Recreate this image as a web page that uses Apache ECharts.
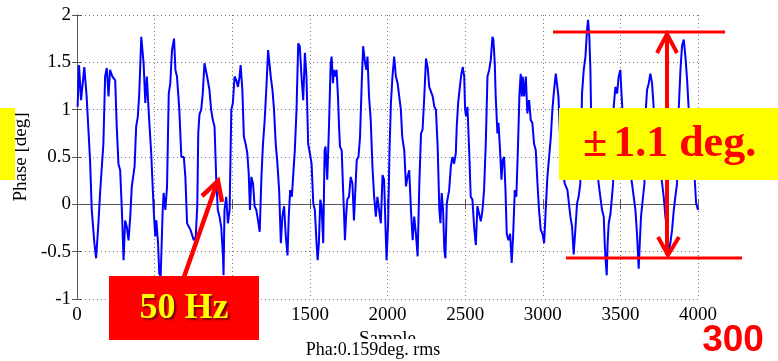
<!DOCTYPE html>
<html>
<head>
<meta charset="utf-8">
<script src="https://cdn.jsdelivr.net/npm/echarts@6/dist/echarts.min.js"></script>
<style>
html,body{margin:0;padding:0;background:#fff;}
#chart{width:778px;height:361px;}
</style>
</head>
<body>
<div id="chart"></div>
<script>
// ---- data ----
const xTicks = [0, 500, 1000, 1500, 2000, 2500, 3000, 3500, 4000];
const yTicks = [-1, -0.5, 0, 0.5, 1, 1.5, 2];
const sampleIdx = [
4,13,26,47,62,84,95,112,123,138,149,159,170,181,192,203,213,228,246,256,267,278,289,300,310,321,332,343,353,371,381,392,401,414,429,440,450,461,478,494,504,511,522,530,539,552,558,569,580,591,601,612,625,634,644,659,672,688,698,709,720,731,752,765,775,781,789,800,
810,821,828,838,853,864,875,886,897,907,918,929,940,944,950,961,972,983,994,1004,1015,1026,1037,1047,1054,1065,1075,1086,1097,1106,1114,1123,1134,1144,1155,1166,1177,1188,1198,1209,1220,1231,1237,1248,1259,1269,1280,1291,1302,1313,1323,1334,1345,1356,1364,1373,1384,1392,1403,1414,1425,1435,1446,1457,1468,1478,1489,1500,1511,1522,1532,1543,1550,1558,1567,1575,1586,
1595,1601,1612,1623,1634,1640,1649,1655,1666,1672,1681,1688,1694,1705,1711,1720,1726,1733,1741,1752,1763,1774,1784,1791,1802,1813,1823,1834,1843,1849,1856,1864,1871,1881,1892,1903,1914,1925,1935,1946,1957,1968,1978,1989,1994,2004,2013,2022,2032,2043,2054,2065,2075,2086,2095,2108,2119,2129,2140,2151,2162,2172,2183,2194,2205,2216,2226,2237,2248,2259,2269,2280,2291,2302,2312,2323,2334,2341,2349,2358,2366,2373,
2382,2397,2408,2418,2429,2440,2446,2455,2466,2476,2485,2494,2500,2506,2515,2526,2536,2547,2558,2569,2579,2590,2601,2612,2622,2633,2644,2655,2665,2676,2682,2691,2697,2708,2715,2725,2734,2742,2751,2760,2768,2779,2790,2800,2809,2820,2830,2841,2850,2858,2865,2871,2880,2891,2901,2912,2923,2933,2944,2955,2966,2976,2987,2998,3009,3019,3030,3041,3052,3062,3073,3084,3090,3101,3112,3127,3142,3159,
3178,3189,3199,3210,3221,3231,3242,3253,3264,3275,3285,3292,3300,3307,3311,3325,3342,3360,3371,3382,3393,3399,3405,3412,3418,3425,3436,3446,3453,3457,3468,3479,3489,3500,3506,3513,3532,3552,3575,3586,3597,3607,3618,3625,3633,3646,3655,3665,3672,3683,3693,3704,3715,3733,3751,3769,3779,3790,3801,3811,3822,3833,3844,3854,3865,3876,3887,3897,3908,3919,3930,3940,3958,3979,3988,4000
];
const phaseDeg = [
1.03,1.47,1.10,1.45,1.14,0.47,-0.06,-0.41,-0.57,-0.20,0.13,0.15,0.64,1.35,1.44,1.14,1.42,1.35,1.31,0.82,0.43,0.36,-0.06,-0.59,-0.17,-0.24,-0.38,-0.13,0.19,0.40,0.82,0.93,1.17,1.77,1.49,1.07,1.35,1.00,0.54,-0.06,-0.34,-0.17,-0.41,-0.73,-0.76,-0.06,0.12,-0.06,0.19,1.17,1.28,1.63,1.75,1.42,1.35,1.00,0.50,0.50,0.29,-0.20,-0.20,-0.27,-0.38,-0.34,0.00,0.75,0.95,1.00,
1.17,1.49,1.51,1.35,1.21,1.00,0.89,0.82,0.26,-0.06,-0.13,-0.24,-0.54,-0.75,-0.06,0.08,-0.20,-0.06,1.00,1.07,1.35,1.31,1.24,1.35,1.47,1.21,0.71,0.64,0.54,0.33,-0.06,0.29,0.22,-0.02,-0.06,-0.17,-0.29,0.29,0.64,0.89,1.24,1.63,1.61,1.35,1.21,1.00,0.64,0.43,0.15,-0.41,-0.13,-0.02,-0.34,-0.54,-0.13,0.15,0.08,0.29,0.57,1.00,1.70,1.67,1.35,1.10,1.60,1.35,0.64,0.54,0.43,0.01,-0.06,-0.41,-0.59,-0.41,0.05,-0.02,-0.41,
0.57,0.61,0.26,0.82,1.49,1.56,1.28,1.42,1.35,1.42,1.14,0.82,0.61,0.57,0.29,-0.10,-0.38,-0.13,0.05,0.08,0.29,0.22,-0.17,0.08,0.47,0.50,0.71,1.28,1.67,1.68,1.49,1.42,1.56,1.14,0.89,0.40,0.08,-0.13,0.08,-0.06,-0.20,0.31,0.26,-0.34,-0.59,-0.20,0.57,1.07,1.35,1.56,1.35,1.28,1.28,1.00,0.71,0.57,0.19,0.29,0.36,-0.06,-0.38,-0.13,-0.31,-0.55,0.22,0.75,0.79,1.14,1.54,1.44,1.24,1.24,1.14,1.03,1.00,0.61,-0.06,-0.20,0.12,-0.06,-0.48,-0.57,
0.01,0.15,0.40,0.50,0.43,0.54,0.82,1.07,1.24,1.38,1.45,1.35,1.00,0.93,1.03,0.57,0.08,0.05,-0.24,-0.43,-0.02,-0.10,-0.18,-0.06,0.15,0.64,1.35,1.42,1.52,1.77,1.74,1.49,1.14,0.75,0.86,0.57,0.26,0.47,0.50,0.15,-0.31,-0.38,-0.31,-0.62,-0.34,0.15,0.08,0.64,1.17,1.38,1.14,1.35,1.14,1.35,0.96,1.10,0.89,0.86,0.64,0.57,0.22,-0.06,-0.27,-0.31,-0.41,-0.06,0.29,0.50,0.71,1.00,1.21,1.38,1.40,1.14,0.71,0.36,0.22,0.15,
-0.13,-0.24,-0.53,-0.27,0.01,0.08,0.22,1.17,1.42,1.56,1.84,1.95,1.77,1.42,1.01,0.75,0.50,0.22,0.08,-0.06,-0.13,-0.41,-0.59,-0.75,-0.41,-0.20,-0.10,0.08,0.22,1.03,1.24,1.17,1.35,1.42,1.21,1.01,0.78,0.45,0.22,0.08,-0.06,-0.31,-0.68,-0.41,-0.13,0.08,0.22,1.03,1.21,1.28,1.38,1.28,1.01,0.72,0.45,0.22,0.08,-0.13,-0.27,-0.48,-0.41,-0.27,-0.06,0.08,0.22,1.01,1.42,1.67,1.74,1.56,1.31,1.01,0.60,0.26,0.01,-0.06
];
const xLabel = 'Sample';
const yLabel = 'Phase [deg]';
const rmsText = 'Pha:0.159deg. rms';
const freqText = '50 Hz';
const cornerText = '300';

const seriesData = sampleIdx.map((s, i) => [s, phaseDeg[i]]);
const serif = 'Liberation Serif';
const axisColor = '#555';
const fmt = v => String(v);

const chart = echarts.init(document.getElementById('chart'), null, {renderer: 'canvas'});
chart.setOption({
  animation: false,
  backgroundColor: '#fff',
  grid: {left: 77, right: 80, top: 15, bottom: 62, containLabel: false},
  xAxis: [{
    type: 'value',
    min: xTicks[0], max: xTicks[xTicks.length - 1], interval: xTicks[1] - xTicks[0],
    name: xLabel, nameLocation: 'middle', nameGap: 25,
    nameTextStyle: {fontFamily: serif, fontSize: 19, color: '#000'},
    axisLine: {show: true, lineStyle: {color: axisColor, width: 1}},
    axisTick: {show: true, inside: true, length: 5, lineStyle: {color: axisColor}},
    axisLabel: {fontFamily: serif, fontSize: 19, color: '#000', margin: 7, formatter: fmt},
    splitLine: {show: true, lineStyle: {color: '#777', type: [1, 3], width: 1}}
  }, {
    type: 'value', position: 'top',
    min: xTicks[0], max: xTicks[xTicks.length - 1], interval: xTicks[1] - xTicks[0],
    axisLine: {show: true, lineStyle: {color: axisColor, width: 1}},
    axisTick: {show: true, inside: true, length: 5, lineStyle: {color: axisColor}},
    axisLabel: {show: false}, splitLine: {show: false}
  }],
  yAxis: [{
    type: 'value',
    min: yTicks[0], max: yTicks[yTicks.length - 1], interval: yTicks[1] - yTicks[0],
    name: yLabel, nameLocation: 'middle', nameGap: 45,
    nameTextStyle: {fontFamily: serif, fontSize: 19, color: '#000'},
    axisLine: {show: true, lineStyle: {color: axisColor, width: 1}},
    axisTick: {show: true, inside: true, length: 5, lineStyle: {color: axisColor}},
    axisLabel: {fontFamily: serif, fontSize: 19, color: '#000', margin: 6, formatter: fmt},
    splitLine: {show: true, lineStyle: {color: '#777', type: [1, 3], width: 1}}
  }, {
    type: 'value', position: 'right',
    min: yTicks[0], max: yTicks[yTicks.length - 1], interval: yTicks[1] - yTicks[0],
    axisLine: {show: true, lineStyle: {color: axisColor, width: 1}},
    axisTick: {show: true, inside: true, length: 5, lineStyle: {color: axisColor}},
    axisLabel: {show: false}, splitLine: {show: false}
  }],
  series: [{
    type: 'line',
    xAxisIndex: 0, yAxisIndex: 0,
    data: seriesData,
    showSymbol: false,
    symbol: 'none',
    lineStyle: {color: '#0000ff', width: 2},
    z: 3
  }],
  graphic: [
    {type: 'rect', z: 100, shape: {x: 285, y: 339, width: 180, height: 22}, style: {fill: '#fff'}},
    {type: 'text', z: 101, x: 373, y: 350, style: {text: rmsText, font: '18px "Liberation Serif"', fill: '#000', textAlign: 'center', textVerticalAlign: 'middle'}},
    {type: 'rect', z: 100, shape: {x: 0, y: 108, width: 15, height: 72}, style: {fill: '#ffff00'}},
    {type: 'line', z: 102, shape: {x1: 553, y1: 32, x2: 725, y2: 32}, style: {stroke: '#ff0000', lineWidth: 3}},
    {type: 'line', z: 102, shape: {x1: 566, y1: 258, x2: 742, y2: 258}, style: {stroke: '#ff0000', lineWidth: 3}},
    {type: 'line', z: 102, shape: {x1: 667, y1: 34, x2: 667, y2: 255}, style: {stroke: '#ff0000', lineWidth: 4}},
    {type: 'polyline', z: 102, shape: {points: [[657, 53], [667, 34], [677, 53]]}, style: {stroke: '#ff0000', lineWidth: 4, fill: null}},
    {type: 'polyline', z: 102, shape: {points: [[658, 237], [668, 255], [679, 237]]}, style: {stroke: '#ff0000', lineWidth: 4, fill: null}},
    {type: 'rect', z: 110, shape: {x: 559, y: 108, width: 219, height: 72}, style: {fill: '#ffff00'}},
    {type: 'text', z: 111, x: 583, y: 145, style: {
      text: '{pm|±}1.1 deg.', font: 'bold 44px "Liberation Serif"', fill: '#ff0000', textVerticalAlign: 'middle',
      rich: {pm: {font: 'bold 44px "Liberation Serif"', fill: '#ff0000', padding: [0, 6, 0, 0]}}
    }},
    {type: 'line', z: 105, shape: {x1: 184, y1: 277, x2: 217, y2: 183}, style: {stroke: '#ff0000', lineWidth: 4.5}},
    {type: 'polyline', z: 105, shape: {points: [[202, 196], [218, 181], [222, 202]]}, style: {stroke: '#ff0000', lineWidth: 4.5, fill: null}},
    {type: 'rect', z: 106, shape: {x: 109, y: 276, width: 150, height: 64}, style: {fill: '#ff0000'}},
    {type: 'text', z: 107, x: 184, y: 309, style: {
      text: freqText, font: 'bold 36px "Liberation Serif"', fill: '#ffff00', textAlign: 'center', textVerticalAlign: 'middle',
      textShadowColor: 'rgba(60,0,0,0.7)', textShadowBlur: 2, textShadowOffsetX: 2, textShadowOffsetY: 2
    }},
    {type: 'text', z: 107, x: 733, y: 341, style: {text: cornerText, font: 'bold 37px "Liberation Sans"', fill: '#ff0000', textAlign: 'center', textVerticalAlign: 'middle'}}
  ]
});
</script>
</body>
</html>
